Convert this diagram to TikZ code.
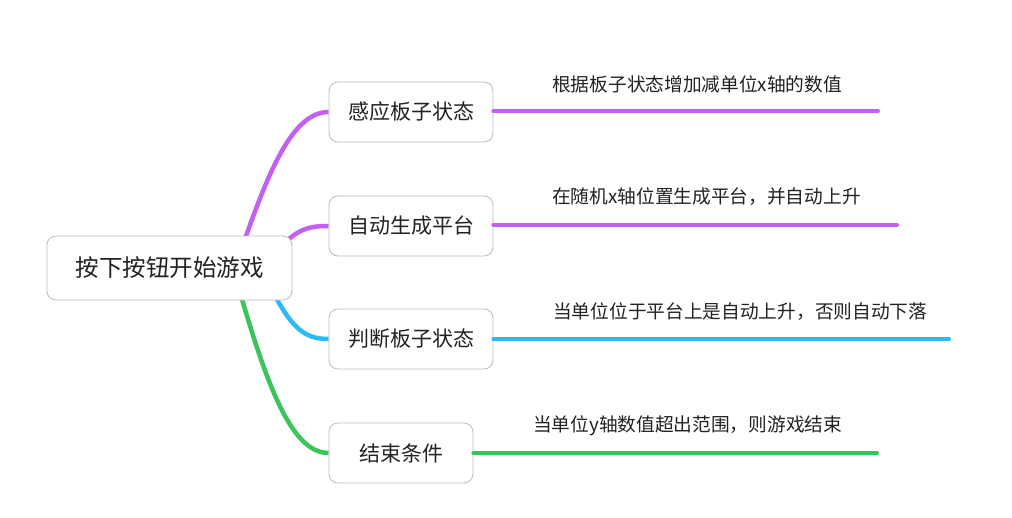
\documentclass[tikz,border=0pt]{standalone}
\usepackage{fontspec}
\setmainfont{Noto Sans CJK SC}
\pgfdeclarelayer{background}
\pgfsetlayers{background,main}
\definecolor{cpurple}{HTML}{C25FF4}
\definecolor{cblue}{HTML}{2BB9F8}
\definecolor{cgreen}{HTML}{3BC45A}
\definecolor{cborder}{HTML}{BDBDBD}
\definecolor{ctext}{HTML}{222222}
\tikzset{
  rootbox/.style={draw=cborder, line width=0.8pt, rounded corners=9pt, fill=white,
    minimum width=245pt, minimum height=64pt, inner sep=0pt, text=ctext,
    font=\fontsize{23.5pt}{28pt}\selectfont},
  childbox/.style={draw=cborder, line width=0.8pt, rounded corners=9pt, fill=white,
    minimum height=60pt, inner sep=0pt, text=ctext,
    font=\fontsize{21pt}{25pt}\selectfont},
  labeltext/.style={anchor=west, inner sep=0pt, text=ctext,
    font=\fontsize{18.7pt}{22pt}\selectfont},
  curve/.style={line width=4.5pt},
  branch/.style={line width=4pt, line cap=round},
}
\begin{document}
\begin{tikzpicture}[x=1pt,y=-1pt]
\useasboundingbox (0,0) rectangle (1012,517);

\node[rootbox] (root) at (169.5,268) {按下按钮开始游戏};
\node[childbox, minimum width=164pt] (c1) at (411,112) {感应板子状态};
\node[childbox, minimum width=164pt] (c2) at (411,226) {自动生成平台};
\node[childbox, minimum width=164pt] (c3) at (411,339) {判断板子状态};
\node[childbox, minimum width=144pt] (c4) at (401,453) {结束条件};

\coordinate (s1) at (235,268);
\coordinate (s2) at (270,258);
\coordinate (s3) at (265,275);
\coordinate (s4) at (235,275);

\begin{pgfonlayer}{background}
\fill[white] (0,0) rectangle (1012,517);
\draw[curve, cpurple] (s1) .. controls (265,180) and (290,112) .. (c1.west);
\draw[curve, cpurple] (s2) .. controls (295,230) and (305,226) .. (c2.west);
\draw[curve, cblue] (s3) .. controls (290,330) and (305,339) .. (c3.west);
\draw[curve, cgreen] (s4) .. controls (265,380) and (290,453) .. (c4.west);
\end{pgfonlayer}

\coordinate (e1) at (878,111);
\coordinate (e2) at (897,225);
\coordinate (e3) at (949,339);
\coordinate (e4) at (877,453);
\draw[branch, cpurple] (c1.east |- e1) -- (e1);
\draw[branch, cpurple] (c2.east |- e2) -- (e2);
\draw[branch, cblue] (c3.east |- e3) -- (e3);
\draw[branch, cgreen] (c4.east |- e4) -- (e4);

\node[labeltext] (l1) at (552,84) {根据板子状态增加减单位x轴的数值};
\node[labeltext] (l2) at (552,197) {在随机x轴位置生成平台，并自动上升};
\node[labeltext] (l3) at (553,312) {当单位位于平台上是自动上升，否则自动下落};
\node[labeltext] (l4) at (533,426) {当单位y轴数值超出范围，则游戏结束};
\end{tikzpicture}
\end{document}
